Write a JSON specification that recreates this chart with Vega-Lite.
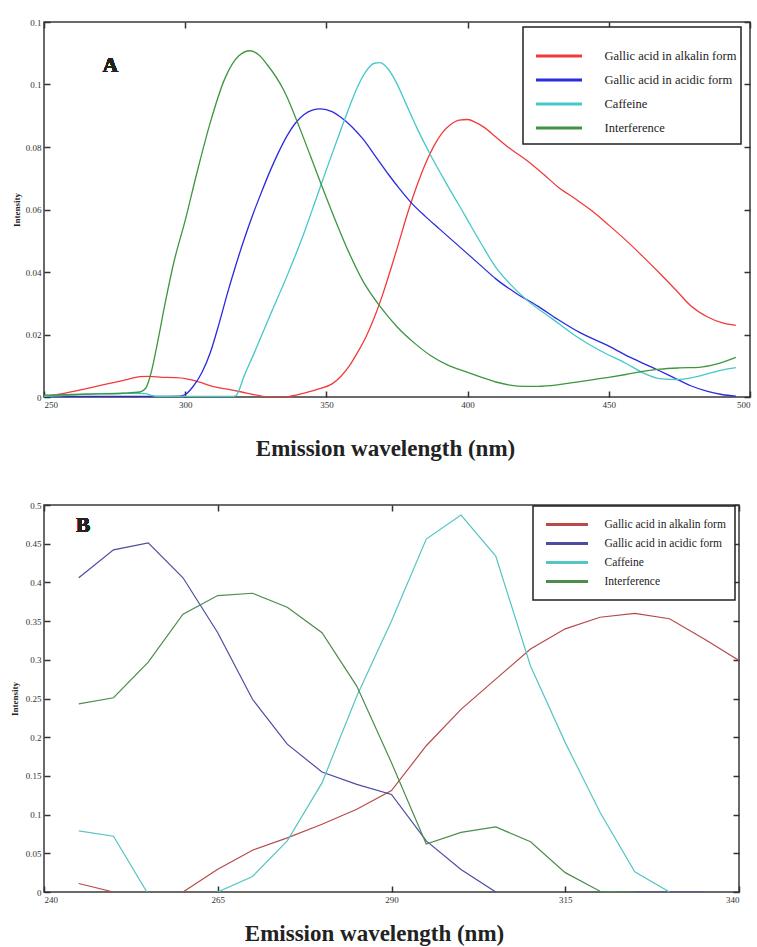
{
  "$schema": "https://vega.github.io/schema/vega-lite/v6.json",
  "background": "white",
  "padding": {"left": 9, "top": 17, "right": 4, "bottom": 4},
  "spacing": 108,
  "bounds": "flush",
  "datasets": {
    "A": [
      {"series": "Gallic acid in alkalin form", "nm": 250, "I": 0},
      {"series": "Gallic acid in alkalin form", "nm": 255, "I": 0.0008},
      {"series": "Gallic acid in alkalin form", "nm": 260, "I": 0.0017},
      {"series": "Gallic acid in alkalin form", "nm": 265, "I": 0.0027},
      {"series": "Gallic acid in alkalin form", "nm": 270, "I": 0.0037},
      {"series": "Gallic acid in alkalin form", "nm": 275, "I": 0.0047},
      {"series": "Gallic acid in alkalin form", "nm": 280, "I": 0.0057},
      {"series": "Gallic acid in alkalin form", "nm": 284, "I": 0.0065},
      {"series": "Gallic acid in alkalin form", "nm": 287, "I": 0.0066},
      {"series": "Gallic acid in alkalin form", "nm": 292, "I": 0.0063},
      {"series": "Gallic acid in alkalin form", "nm": 296, "I": 0.0062},
      {"series": "Gallic acid in alkalin form", "nm": 300, "I": 0.0059},
      {"series": "Gallic acid in alkalin form", "nm": 303, "I": 0.0053},
      {"series": "Gallic acid in alkalin form", "nm": 306, "I": 0.0045},
      {"series": "Gallic acid in alkalin form", "nm": 310, "I": 0.0033},
      {"series": "Gallic acid in alkalin form", "nm": 315, "I": 0.0025},
      {"series": "Gallic acid in alkalin form", "nm": 320, "I": 0.0016},
      {"series": "Gallic acid in alkalin form", "nm": 324, "I": 0.0008},
      {"series": "Gallic acid in alkalin form", "nm": 327, "I": 0.0003},
      {"series": "Gallic acid in alkalin form", "nm": 330, "I": 0},
      {"series": "Gallic acid in alkalin form", "nm": 335, "I": 0},
      {"series": "Gallic acid in alkalin form", "nm": 338, "I": 0.0004},
      {"series": "Gallic acid in alkalin form", "nm": 341, "I": 0.001},
      {"series": "Gallic acid in alkalin form", "nm": 344, "I": 0.0017},
      {"series": "Gallic acid in alkalin form", "nm": 347, "I": 0.0025},
      {"series": "Gallic acid in alkalin form", "nm": 352, "I": 0.0042},
      {"series": "Gallic acid in alkalin form", "nm": 355, "I": 0.0065},
      {"series": "Gallic acid in alkalin form", "nm": 358, "I": 0.0098},
      {"series": "Gallic acid in alkalin form", "nm": 361, "I": 0.0142},
      {"series": "Gallic acid in alkalin form", "nm": 364, "I": 0.0192},
      {"series": "Gallic acid in alkalin form", "nm": 367, "I": 0.0255},
      {"series": "Gallic acid in alkalin form", "nm": 370, "I": 0.033},
      {"series": "Gallic acid in alkalin form", "nm": 373, "I": 0.0415},
      {"series": "Gallic acid in alkalin form", "nm": 376, "I": 0.0505},
      {"series": "Gallic acid in alkalin form", "nm": 379, "I": 0.0595},
      {"series": "Gallic acid in alkalin form", "nm": 382, "I": 0.0675},
      {"series": "Gallic acid in alkalin form", "nm": 385, "I": 0.0745},
      {"series": "Gallic acid in alkalin form", "nm": 388, "I": 0.0802},
      {"series": "Gallic acid in alkalin form", "nm": 391, "I": 0.0845},
      {"series": "Gallic acid in alkalin form", "nm": 394, "I": 0.0872},
      {"series": "Gallic acid in alkalin form", "nm": 397, "I": 0.0886},
      {"series": "Gallic acid in alkalin form", "nm": 400, "I": 0.0888},
      {"series": "Gallic acid in alkalin form", "nm": 403, "I": 0.0878},
      {"series": "Gallic acid in alkalin form", "nm": 406, "I": 0.0862},
      {"series": "Gallic acid in alkalin form", "nm": 410, "I": 0.0832},
      {"series": "Gallic acid in alkalin form", "nm": 415, "I": 0.0795},
      {"series": "Gallic acid in alkalin form", "nm": 421, "I": 0.0757},
      {"series": "Gallic acid in alkalin form", "nm": 427, "I": 0.0712},
      {"series": "Gallic acid in alkalin form", "nm": 432, "I": 0.0672},
      {"series": "Gallic acid in alkalin form", "nm": 438, "I": 0.0635},
      {"series": "Gallic acid in alkalin form", "nm": 444, "I": 0.0596},
      {"series": "Gallic acid in alkalin form", "nm": 450, "I": 0.055},
      {"series": "Gallic acid in alkalin form", "nm": 456, "I": 0.0502},
      {"series": "Gallic acid in alkalin form", "nm": 462, "I": 0.045},
      {"series": "Gallic acid in alkalin form", "nm": 468, "I": 0.0396},
      {"series": "Gallic acid in alkalin form", "nm": 474, "I": 0.034},
      {"series": "Gallic acid in alkalin form", "nm": 479, "I": 0.0292},
      {"series": "Gallic acid in alkalin form", "nm": 485, "I": 0.0256},
      {"series": "Gallic acid in alkalin form", "nm": 490, "I": 0.0238},
      {"series": "Gallic acid in alkalin form", "nm": 495, "I": 0.0229},

      {"series": "Gallic acid in acidic form", "nm": 250, "I": 0.0002},
      {"series": "Gallic acid in acidic form", "nm": 270, "I": 0.0002},
      {"series": "Gallic acid in acidic form", "nm": 290, "I": 0.0002},
      {"series": "Gallic acid in acidic form", "nm": 298, "I": 0.0003},
      {"series": "Gallic acid in acidic form", "nm": 300, "I": 0.0008},
      {"series": "Gallic acid in acidic form", "nm": 303, "I": 0.0036},
      {"series": "Gallic acid in acidic form", "nm": 306, "I": 0.008},
      {"series": "Gallic acid in acidic form", "nm": 309, "I": 0.0145},
      {"series": "Gallic acid in acidic form", "nm": 312, "I": 0.0235},
      {"series": "Gallic acid in acidic form", "nm": 315, "I": 0.0333},
      {"series": "Gallic acid in acidic form", "nm": 318, "I": 0.0424},
      {"series": "Gallic acid in acidic form", "nm": 321, "I": 0.0508},
      {"series": "Gallic acid in acidic form", "nm": 324, "I": 0.0585},
      {"series": "Gallic acid in acidic form", "nm": 327, "I": 0.0655},
      {"series": "Gallic acid in acidic form", "nm": 330, "I": 0.0722},
      {"series": "Gallic acid in acidic form", "nm": 333, "I": 0.0782},
      {"series": "Gallic acid in acidic form", "nm": 336, "I": 0.0835},
      {"series": "Gallic acid in acidic form", "nm": 339, "I": 0.0876},
      {"series": "Gallic acid in acidic form", "nm": 342, "I": 0.0903},
      {"series": "Gallic acid in acidic form", "nm": 345, "I": 0.0918},
      {"series": "Gallic acid in acidic form", "nm": 348, "I": 0.0922},
      {"series": "Gallic acid in acidic form", "nm": 352, "I": 0.0913},
      {"series": "Gallic acid in acidic form", "nm": 355, "I": 0.0896},
      {"series": "Gallic acid in acidic form", "nm": 359, "I": 0.0865},
      {"series": "Gallic acid in acidic form", "nm": 363, "I": 0.0825},
      {"series": "Gallic acid in acidic form", "nm": 367, "I": 0.0775},
      {"series": "Gallic acid in acidic form", "nm": 372, "I": 0.0712},
      {"series": "Gallic acid in acidic form", "nm": 376, "I": 0.0665},
      {"series": "Gallic acid in acidic form", "nm": 380, "I": 0.0622},
      {"series": "Gallic acid in acidic form", "nm": 385, "I": 0.0578},
      {"series": "Gallic acid in acidic form", "nm": 390, "I": 0.0538},
      {"series": "Gallic acid in acidic form", "nm": 395, "I": 0.0498},
      {"series": "Gallic acid in acidic form", "nm": 400, "I": 0.0458},
      {"series": "Gallic acid in acidic form", "nm": 405, "I": 0.0418},
      {"series": "Gallic acid in acidic form", "nm": 410, "I": 0.0378},
      {"series": "Gallic acid in acidic form", "nm": 417, "I": 0.0333},
      {"series": "Gallic acid in acidic form", "nm": 425, "I": 0.029},
      {"series": "Gallic acid in acidic form", "nm": 432, "I": 0.0248},
      {"series": "Gallic acid in acidic form", "nm": 440, "I": 0.0205},
      {"series": "Gallic acid in acidic form", "nm": 450, "I": 0.0163},
      {"series": "Gallic acid in acidic form", "nm": 458, "I": 0.0125},
      {"series": "Gallic acid in acidic form", "nm": 467, "I": 0.0088},
      {"series": "Gallic acid in acidic form", "nm": 473, "I": 0.0062},
      {"series": "Gallic acid in acidic form", "nm": 479, "I": 0.0036},
      {"series": "Gallic acid in acidic form", "nm": 485, "I": 0.0018},
      {"series": "Gallic acid in acidic form", "nm": 490, "I": 0.0008},
      {"series": "Gallic acid in acidic form", "nm": 495, "I": 0.0003},

      {"series": "Caffeine", "nm": 250, "I": 0.0002},
      {"series": "Caffeine", "nm": 258, "I": 0.0005},
      {"series": "Caffeine", "nm": 264, "I": 0.0009},
      {"series": "Caffeine", "nm": 270, "I": 0.0011},
      {"series": "Caffeine", "nm": 280, "I": 0.0012},
      {"series": "Caffeine", "nm": 286, "I": 0.0011},
      {"series": "Caffeine", "nm": 288, "I": 0.0005},
      {"series": "Caffeine", "nm": 290, "I": 0.0002},
      {"series": "Caffeine", "nm": 317, "I": 0.0002},
      {"series": "Caffeine", "nm": 318, "I": 0.0005},
      {"series": "Caffeine", "nm": 321, "I": 0.007},
      {"series": "Caffeine", "nm": 324.5, "I": 0.0142},
      {"series": "Caffeine", "nm": 330, "I": 0.026},
      {"series": "Caffeine", "nm": 336, "I": 0.0386},
      {"series": "Caffeine", "nm": 342, "I": 0.0523},
      {"series": "Caffeine", "nm": 346, "I": 0.0625},
      {"series": "Caffeine", "nm": 349, "I": 0.0702},
      {"series": "Caffeine", "nm": 352, "I": 0.0778},
      {"series": "Caffeine", "nm": 355, "I": 0.0852},
      {"series": "Caffeine", "nm": 358, "I": 0.0925},
      {"series": "Caffeine", "nm": 361, "I": 0.0992},
      {"series": "Caffeine", "nm": 364, "I": 0.1042},
      {"series": "Caffeine", "nm": 367, "I": 0.1068},
      {"series": "Caffeine", "nm": 369, "I": 0.107},
      {"series": "Caffeine", "nm": 372, "I": 0.1048},
      {"series": "Caffeine", "nm": 375, "I": 0.1002},
      {"series": "Caffeine", "nm": 378, "I": 0.0942},
      {"series": "Caffeine", "nm": 382, "I": 0.0862},
      {"series": "Caffeine", "nm": 387, "I": 0.0772},
      {"series": "Caffeine", "nm": 393, "I": 0.0675},
      {"series": "Caffeine", "nm": 399, "I": 0.0582},
      {"series": "Caffeine", "nm": 405, "I": 0.0488},
      {"series": "Caffeine", "nm": 410, "I": 0.0415},
      {"series": "Caffeine", "nm": 415, "I": 0.0362},
      {"series": "Caffeine", "nm": 421, "I": 0.031},
      {"series": "Caffeine", "nm": 430, "I": 0.025},
      {"series": "Caffeine", "nm": 438, "I": 0.0197},
      {"series": "Caffeine", "nm": 447, "I": 0.0148},
      {"series": "Caffeine", "nm": 456, "I": 0.0108},
      {"series": "Caffeine", "nm": 462, "I": 0.0078},
      {"series": "Caffeine", "nm": 468, "I": 0.0059},
      {"series": "Caffeine", "nm": 474, "I": 0.0056},
      {"series": "Caffeine", "nm": 480, "I": 0.0063},
      {"series": "Caffeine", "nm": 486, "I": 0.0077},
      {"series": "Caffeine", "nm": 490, "I": 0.0086},
      {"series": "Caffeine", "nm": 495, "I": 0.0094},

      {"series": "Interference", "nm": 250, "I": 0.0006},
      {"series": "Interference", "nm": 260, "I": 0.0008},
      {"series": "Interference", "nm": 270, "I": 0.001},
      {"series": "Interference", "nm": 278, "I": 0.0012},
      {"series": "Interference", "nm": 284, "I": 0.0016},
      {"series": "Interference", "nm": 286, "I": 0.0028},
      {"series": "Interference", "nm": 288, "I": 0.008},
      {"series": "Interference", "nm": 290, "I": 0.0165},
      {"series": "Interference", "nm": 293, "I": 0.0305},
      {"series": "Interference", "nm": 296, "I": 0.0432},
      {"series": "Interference", "nm": 300, "I": 0.0565},
      {"series": "Interference", "nm": 304, "I": 0.0712},
      {"series": "Interference", "nm": 309, "I": 0.0882},
      {"series": "Interference", "nm": 314, "I": 0.1018},
      {"series": "Interference", "nm": 319, "I": 0.1092},
      {"series": "Interference", "nm": 323, "I": 0.1108},
      {"series": "Interference", "nm": 326, "I": 0.1095},
      {"series": "Interference", "nm": 329, "I": 0.1064},
      {"series": "Interference", "nm": 335, "I": 0.098},
      {"series": "Interference", "nm": 341, "I": 0.085},
      {"series": "Interference", "nm": 347, "I": 0.0708},
      {"series": "Interference", "nm": 352, "I": 0.0592},
      {"series": "Interference", "nm": 358, "I": 0.0462},
      {"series": "Interference", "nm": 363, "I": 0.037},
      {"series": "Interference", "nm": 369, "I": 0.029},
      {"series": "Interference", "nm": 375, "I": 0.0225},
      {"series": "Interference", "nm": 381, "I": 0.0174},
      {"series": "Interference", "nm": 387, "I": 0.0132},
      {"series": "Interference", "nm": 393, "I": 0.0102},
      {"series": "Interference", "nm": 399, "I": 0.0082},
      {"series": "Interference", "nm": 405, "I": 0.0063},
      {"series": "Interference", "nm": 410, "I": 0.0048},
      {"series": "Interference", "nm": 415, "I": 0.0038},
      {"series": "Interference", "nm": 420, "I": 0.0034},
      {"series": "Interference", "nm": 425, "I": 0.0034},
      {"series": "Interference", "nm": 432, "I": 0.0039},
      {"series": "Interference", "nm": 438, "I": 0.0047},
      {"series": "Interference", "nm": 444, "I": 0.0055},
      {"series": "Interference", "nm": 450, "I": 0.0063},
      {"series": "Interference", "nm": 456, "I": 0.0072},
      {"series": "Interference", "nm": 462, "I": 0.0082},
      {"series": "Interference", "nm": 468, "I": 0.0089},
      {"series": "Interference", "nm": 475, "I": 0.0093},
      {"series": "Interference", "nm": 482, "I": 0.0095},
      {"series": "Interference", "nm": 488, "I": 0.0105},
      {"series": "Interference", "nm": 495, "I": 0.0127}
    ],
    "B": [
      {"series": "Gallic acid in alkalin form", "nm": 245, "I": 0.011},
      {"series": "Gallic acid in alkalin form", "nm": 250, "I": 0},
      {"series": "Gallic acid in alkalin form", "nm": 255, "I": -0.012},
      {"series": "Gallic acid in alkalin form", "nm": 260, "I": 0},
      {"series": "Gallic acid in alkalin form", "nm": 265, "I": 0.0295},
      {"series": "Gallic acid in alkalin form", "nm": 270, "I": 0.054},
      {"series": "Gallic acid in alkalin form", "nm": 275, "I": 0.07},
      {"series": "Gallic acid in alkalin form", "nm": 280, "I": 0.0875},
      {"series": "Gallic acid in alkalin form", "nm": 285, "I": 0.107},
      {"series": "Gallic acid in alkalin form", "nm": 290, "I": 0.131},
      {"series": "Gallic acid in alkalin form", "nm": 295, "I": 0.189},
      {"series": "Gallic acid in alkalin form", "nm": 300, "I": 0.236},
      {"series": "Gallic acid in alkalin form", "nm": 305, "I": 0.275},
      {"series": "Gallic acid in alkalin form", "nm": 310, "I": 0.314},
      {"series": "Gallic acid in alkalin form", "nm": 315, "I": 0.34},
      {"series": "Gallic acid in alkalin form", "nm": 320, "I": 0.355},
      {"series": "Gallic acid in alkalin form", "nm": 325, "I": 0.36},
      {"series": "Gallic acid in alkalin form", "nm": 330, "I": 0.353},
      {"series": "Gallic acid in alkalin form", "nm": 335, "I": 0.327},
      {"series": "Gallic acid in alkalin form", "nm": 340, "I": 0.299},

      {"series": "Gallic acid in acidic form", "nm": 245, "I": 0.406},
      {"series": "Gallic acid in acidic form", "nm": 250, "I": 0.442},
      {"series": "Gallic acid in acidic form", "nm": 255, "I": 0.451},
      {"series": "Gallic acid in acidic form", "nm": 260, "I": 0.406},
      {"series": "Gallic acid in acidic form", "nm": 265, "I": 0.335},
      {"series": "Gallic acid in acidic form", "nm": 270, "I": 0.249},
      {"series": "Gallic acid in acidic form", "nm": 275, "I": 0.191},
      {"series": "Gallic acid in acidic form", "nm": 280, "I": 0.155},
      {"series": "Gallic acid in acidic form", "nm": 285, "I": 0.139},
      {"series": "Gallic acid in acidic form", "nm": 290, "I": 0.126},
      {"series": "Gallic acid in acidic form", "nm": 295, "I": 0.066},
      {"series": "Gallic acid in acidic form", "nm": 300, "I": 0.029},
      {"series": "Gallic acid in acidic form", "nm": 305, "I": 0},
      {"series": "Gallic acid in acidic form", "nm": 310, "I": -0.01},
      {"series": "Gallic acid in acidic form", "nm": 315, "I": -0.01},
      {"series": "Gallic acid in acidic form", "nm": 320, "I": 0},
      {"series": "Gallic acid in acidic form", "nm": 325, "I": 0},
      {"series": "Gallic acid in acidic form", "nm": 330, "I": 0},
      {"series": "Gallic acid in acidic form", "nm": 335, "I": 0},

      {"series": "Caffeine", "nm": 245, "I": 0.079},
      {"series": "Caffeine", "nm": 250, "I": 0.072},
      {"series": "Caffeine", "nm": 255, "I": -0.003},
      {"series": "Caffeine", "nm": 260, "I": -0.04},
      {"series": "Caffeine", "nm": 265, "I": 0},
      {"series": "Caffeine", "nm": 270, "I": 0.02},
      {"series": "Caffeine", "nm": 275, "I": 0.066},
      {"series": "Caffeine", "nm": 280, "I": 0.141},
      {"series": "Caffeine", "nm": 285, "I": 0.253},
      {"series": "Caffeine", "nm": 290, "I": 0.35},
      {"series": "Caffeine", "nm": 295, "I": 0.456},
      {"series": "Caffeine", "nm": 300, "I": 0.487},
      {"series": "Caffeine", "nm": 305, "I": 0.434},
      {"series": "Caffeine", "nm": 310, "I": 0.292},
      {"series": "Caffeine", "nm": 315, "I": 0.193},
      {"series": "Caffeine", "nm": 320, "I": 0.103},
      {"series": "Caffeine", "nm": 325, "I": 0.026},
      {"series": "Caffeine", "nm": 330, "I": 0},

      {"series": "Interference", "nm": 245, "I": 0.243},
      {"series": "Interference", "nm": 250, "I": 0.251},
      {"series": "Interference", "nm": 255, "I": 0.297},
      {"series": "Interference", "nm": 260, "I": 0.359},
      {"series": "Interference", "nm": 265, "I": 0.383},
      {"series": "Interference", "nm": 270, "I": 0.386},
      {"series": "Interference", "nm": 275, "I": 0.368},
      {"series": "Interference", "nm": 280, "I": 0.335},
      {"series": "Interference", "nm": 285, "I": 0.266},
      {"series": "Interference", "nm": 290, "I": 0.167},
      {"series": "Interference", "nm": 295, "I": 0.062},
      {"series": "Interference", "nm": 300, "I": 0.077},
      {"series": "Interference", "nm": 305, "I": 0.084},
      {"series": "Interference", "nm": 310, "I": 0.065},
      {"series": "Interference", "nm": 315, "I": 0.025},
      {"series": "Interference", "nm": 320, "I": 0.001},
      {"series": "Interference", "nm": 325, "I": 0}
    ]
  },
  "config": {
    "view": {"stroke": "#3a3a3a", "strokeWidth": 1.5},
    "axis": {
      "domain": false,
      "grid": false,
      "tickColor": "#333333",
      "tickSize": -6,
      "tickWidth": 1.5,
      "labelFont": "Liberation Sans Narrow",
      "labelFontSize": 9,
      "labelColor": "#333333",
      "labelPadding": 9
    },
    "legend": {
      "orient": "none",
      "title": null,
      "symbolType": "stroke",
      "symbolStrokeWidth": 3,
      "labelFont": "Liberation Serif",
      "labelColor": "#222222",
      "labelLimit": 300,
      "strokeColor": "#222222",
      "strokeWidth": 1.5,
      "fillColor": "white",
      "rowPadding": 0
    }
  },
  "vconcat": [
    {
      "width": 706,
      "height": 375,
      "data": {"name": "A"},
      "layer": [
        {
          "mark": {"type": "line", "strokeWidth": 1.3, "clip": true, "interpolate": "monotone"},
          "encoding": {
            "x": {"field": "nm", "type": "quantitative", "scale": {"domain": [250, 500], "nice": false},
                  "axis": {"orient": "bottom", "values": [250, 300, 350, 400, 450, 500], "title": "Emission wavelength (nm)",
                           "titleFont": "Liberation Serif", "titleFontSize": 23, "titleFontWeight": "bold", "titleColor": "#222222", "titlePadding": 28, "titleX": 341}},
            "y": {"field": "I", "type": "quantitative", "scale": {"domain": [0, 0.12], "nice": false},
                  "axis": {"orient": "left", "values": [0, 0.02, 0.04, 0.06, 0.08, 0.1, 0.12], "format": "~g", "title": "Intensity",
                           "titleFont": "Liberation Sans Narrow", "titleFontSize": 9, "titleFontWeight": "bold", "titleColor": "#222222", "titlePadding": 4}},
            "color": {"field": "series", "type": "nominal",
                      "scale": {"domain": ["Gallic acid in alkalin form", "Gallic acid in acidic form", "Caffeine", "Interference"],
                                "range": ["#f23a3a", "#2a2ae0", "#45c8c8", "#3e963e"]},
                      "legend": {"legendX": 479, "legendY": 5, "symbolSize": 2116, "clipHeight": 24, "symbolOffset": 7.5,
                                 "labelFont": "Liberation Serif", "labelFontSize": 12.5, "labelOffset": 21, "padding": 4,
                                 "title": "                                                                                        ",
                                 "titleFont": "Liberation Serif", "titleFontSize": 10, "titlePadding": 3}}
          }
        },
        {
          "mark": {"type": "line", "strokeOpacity": 0, "clip": true},
          "encoding": {
            "x": {"field": "nm", "type": "quantitative", "axis": {"orient": "top", "values": [250, 300, 350, 400, 450, 500], "labels": false, "title": null}},
            "y": {"field": "I", "type": "quantitative", "axis": {"orient": "right", "values": [0, 0.02, 0.04, 0.06, 0.08, 0.1, 0.12], "labels": false, "title": null}},
            "detail": {"field": "series"}
          }
        },
        {
          "mark": {"type": "text", "font": "Liberation Serif", "fontWeight": "bold", "fontSize": 21, "color": "#222222"},
          "encoding": {
            "x": {"datum": 273.5, "type": "quantitative", "axis": null},
            "y": {"datum": 0.1058, "type": "quantitative", "axis": null},
            "text": {"value": "A"}
          }
        }
      ],
      "resolve": {"axis": {"x": "independent", "y": "independent"}}
    },
    {
      "width": 695,
      "height": 387,
      "data": {"name": "B"},
      "layer": [
        {
          "mark": {"type": "line", "strokeWidth": 1.2, "clip": true},
          "encoding": {
            "x": {"field": "nm", "type": "quantitative", "scale": {"domain": [240, 340], "nice": false},
                  "axis": {"orient": "bottom", "values": [240, 265, 290, 315, 340], "title": "Emission wavelength (nm)",
                           "titleFont": "Liberation Serif", "titleFontSize": 23, "titleFontWeight": "bold", "titleColor": "#222222", "titlePadding": 18, "titleX": 330}},
            "y": {"field": "I", "type": "quantitative", "scale": {"domain": [0, 0.5], "nice": false},
                  "axis": {"orient": "left", "values": [0, 0.05, 0.1, 0.15, 0.2, 0.25, 0.3, 0.35, 0.4, 0.45, 0.5], "format": "~g", "title": "Intensity",
                           "titleFont": "Liberation Sans Narrow", "titleFontSize": 9, "titleFontWeight": "bold", "titleColor": "#222222", "titlePadding": 6}},
            "color": {"field": "series", "type": "nominal",
                      "scale": {"domain": ["Gallic acid in alkalin form", "Gallic acid in acidic form", "Caffeine", "Interference"],
                                "range": ["#b84a4a", "#4c4ca0", "#55c4c4", "#4c8c4c"]},
                      "legend": {"legendX": 489, "legendY": 1, "symbolSize": 1764, "clipHeight": 19, "symbolOffset": 2.5, "labelFont": "Liberation Serif", "labelFontSize": 11.5, "labelOffset": 15, "padding": 9}}
          }
        },
        {
          "mark": {"type": "line", "strokeOpacity": 0, "clip": true},
          "encoding": {
            "x": {"field": "nm", "type": "quantitative", "axis": {"orient": "top", "values": [240, 265, 290, 315, 340], "labels": false, "title": null}},
            "y": {"field": "I", "type": "quantitative", "axis": {"orient": "right", "values": [0, 0.05, 0.1, 0.15, 0.2, 0.25, 0.3, 0.35, 0.4, 0.45, 0.5], "labels": false, "title": null}},
            "detail": {"field": "series"}
          }
        },
        {
          "mark": {"type": "text", "font": "Liberation Serif", "fontWeight": "bold", "fontSize": 21, "color": "#222222"},
          "encoding": {
            "x": {"datum": 245.6, "type": "quantitative", "axis": null},
            "y": {"datum": 0.473, "type": "quantitative", "axis": null},
            "text": {"value": "B"}
          }
        }
      ],
      "resolve": {"axis": {"x": "independent", "y": "independent"}}
    }
  ],
  "resolve": {"scale": {"color": "independent"}, "legend": {"color": "independent"}}
}
